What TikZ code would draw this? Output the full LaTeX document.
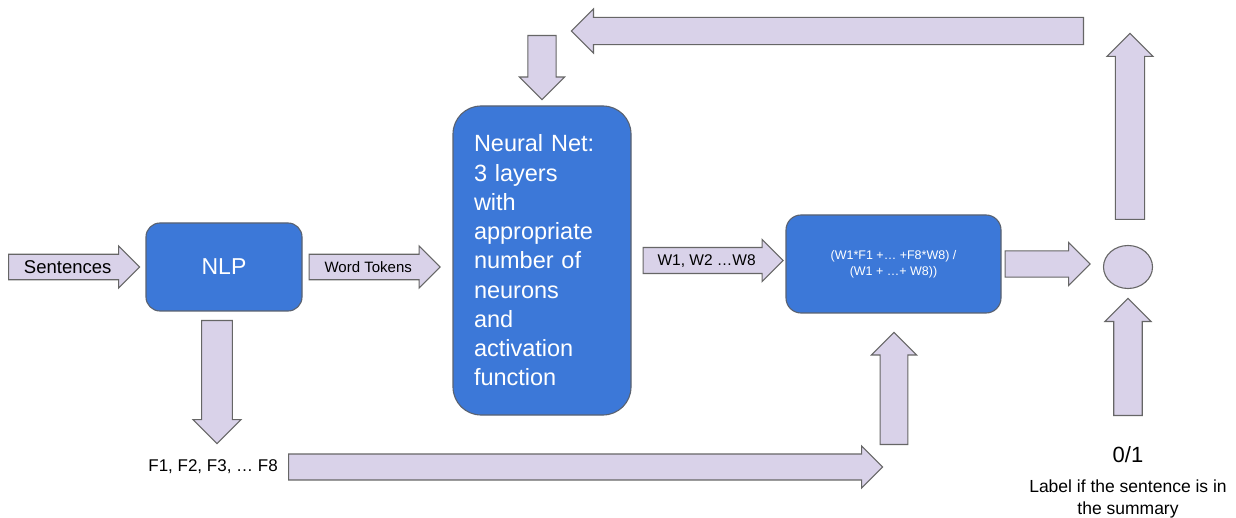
\documentclass[tikz,border=0pt]{standalone}
\usepackage{fontspec}
\setmainfont{Liberation Sans}
\usetikzlibrary{shapes.arrows,shapes.geometric}

\definecolor{boxblue}{HTML}{3C78D8}
\definecolor{boxedge}{HTML}{5A6270}
\definecolor{arrowfill}{HTML}{D9D2E9}
\definecolor{arrowedge}{HTML}{666666}

\newcommand{\fs}[2]{\fontsize{#1}{#2}\selectfont}

\tikzset{
  % shaft thickness comes from text height + text depth, head width from minimum width
  blockarrow/.style={single arrow, draw=arrowedge, fill=arrowfill,
    line width=1.1pt, inner sep=0pt, anchor=tail, text=black},
  shaft/.style={text height=#1, text depth=0pt},
  bluebox/.style={draw=boxedge, fill=boxblue, line width=1.1pt,
    text=white, inner sep=0pt},
  plain/.style={inner sep=0pt, text=black}
}

\begin{document}
\begin{tikzpicture}[x=1pt,y=-1pt]
  \fill[white] (0,0) rectangle (1236,518);
  \useasboundingbox (0,0) rectangle (1236,518);

  % processing blocks
  \node[bluebox, minimum width=156, minimum height=88, rounded corners=14,
        font=\fs{23}{27}] (nlp) at (224,267) {NLP};
  \node[bluebox, minimum width=178, minimum height=309, rounded corners=28,
        text width=136, align=left, font=\fs{23.5}{29.25}] (nn) at (542,260.5)
        {Neural Net:\\3 layers\\with\\appropriate\\number of\\neurons\\and\\activation\\function};
  \node[bluebox, minimum width=215, minimum height=98, rounded corners=15,
        align=center, font=\fs{12.5}{16}] (wsum) at (893.5,264)
        {(W1*F1 +\dots\ +F8*W8) /\\(W1 + \dots+ W8))};
  \node[ellipse, draw=arrowedge, fill=arrowfill, line width=1.1pt,
        minimum width=49, minimum height=43, inner sep=0pt] (out) at (1128,267) {};

  % free texts
  \node[plain, anchor=east, font=\fs{17}{20}] (feat) at (278,467) {F1, F2, F3, \dots\ F8};
  \node[plain, font=\fs{22}{26}] (bin) at (1128,455) {0/1};
  \node[plain, align=center, font=\fs{17.5}{22}] (lab) at (1128,499)
        {Label if the sentence is in\\the summary};

  % tails of the block arrows
  \coordinate (tSent) at (8,267);
  \coordinate (tTok) at ([xshift=6pt]nlp.east);
  \coordinate (tW) at ([xshift=11pt]nn.east);
  \coordinate (tOut) at ([xshift=3pt]wsum.east);
  \coordinate (tUp) at (1130,220);
  \coordinate (tBack) at (1084,31);
  \coordinate (tDown) at (542,35);
  \coordinate (tF) at (217,320);
  \coordinate (tFeat) at ([xshift=10pt]feat.east);
  \coordinate (tFup) at (894,445);
  \coordinate (tLow) at (1128,416);

  % block arrows
  \node[blockarrow, minimum height=131, minimum width=42, font=\fs{18.5}{20},
        text height=17.1pt, text depth=3.9pt] (aSent) at (tSent) {Sentences};
  \node[blockarrow, minimum height=131, minimum width=42, font=\fs{15}{18},
        text height=15.9pt, text depth=5.1pt] (aTok) at (tTok) {Word Tokens};
  \node[blockarrow, minimum height=140, minimum width=42, font=\fs{15.5}{18},
        text height=16.5pt, text depth=5.5pt] (aW) at (tW) {W1, W2 \dots W8};
  \node[blockarrow, shaft=21pt, minimum height=85, minimum width=43] (aOut) at (tOut) {};
  \node[blockarrow, shaft=24pt, minimum height=186, minimum width=46, rotate=90] (aUp) at (tUp) {};
  \node[blockarrow, shaft=22pt, minimum height=512, minimum width=44, rotate=180] (aBack) at (tBack) {};
  \node[blockarrow, shaft=23pt, minimum height=64, minimum width=45, rotate=-90] (aDown) at (tDown) {};
  \node[blockarrow, shaft=24pt, minimum height=123, minimum width=48, rotate=-90] (aF) at (tF) {};
  \node[blockarrow, shaft=22pt, minimum height=594, minimum width=42] (aFeat) at (tFeat) {};
  \node[blockarrow, shaft=22pt, minimum height=112, minimum width=45, rotate=90] (aFup) at (tFup) {};
  \node[blockarrow, shaft=22pt, minimum height=117, minimum width=46, rotate=90] (aLow) at (tLow) {};
\end{tikzpicture}
\end{document}
